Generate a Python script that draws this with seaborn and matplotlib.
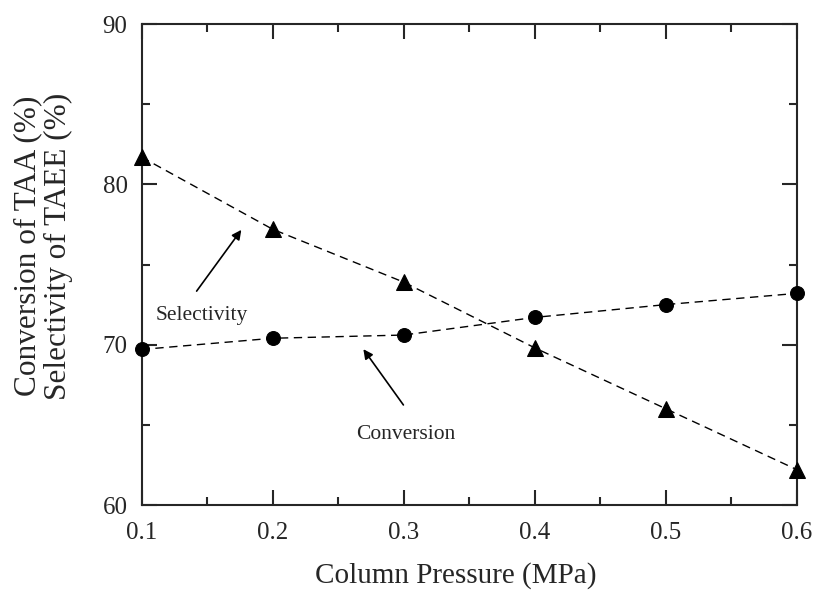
import matplotlib
matplotlib.use("Agg")
import matplotlib.pyplot as plt
from matplotlib.ticker import MultipleLocator
import seaborn as sns
import pandas as pd

pressure = [0.1, 0.2, 0.3, 0.4, 0.5, 0.6]
selectivity = [81.7, 77.2, 73.9, 69.8, 66.0, 62.2]
conversion = [69.7, 70.4, 70.6, 71.7, 72.5, 73.2]
x_ticks = [0.1, 0.2, 0.3, 0.4, 0.5, 0.6]
y_ticks = [60, 70, 80, 90]

sns.set_style("ticks")
plt.rcParams['font.family'] = ['Liberation Serif', 'DejaVu Serif']
plt.rcParams['mathtext.fontset'] = 'stix'

df = pd.DataFrame({"p": pressure, "sel": selectivity, "conv": conversion})

fig = plt.figure(figsize=(8.14, 5.90), dpi=100)
ax = fig.add_axes([141.5 / 814, 1 - 505 / 590, (797 - 141.5) / 814, (505 - 24) / 590])

sns.lineplot(data=df, x="p", y="sel", ax=ax, color="black", marker="^",
             markersize=12, markeredgecolor="black", linewidth=1.0,
             dashes=False, linestyle=(0, (6, 4)), clip_on=False, zorder=3)
sns.lineplot(data=df, x="p", y="conv", ax=ax, color="black", marker="o",
             markersize=10, markeredgecolor="black", linewidth=1.0,
             dashes=False, linestyle=(0, (6, 4)), clip_on=False, zorder=3)

ax.set_xlim(0.1, 0.6)
ax.set_ylim(60, 90)
ax.set_xticks(x_ticks)
ax.set_xticklabels([f"{v:.1f}" for v in x_ticks])
ax.set_yticks(y_ticks)
ax.set_yticklabels([str(v) for v in y_ticks])
ax.xaxis.set_minor_locator(MultipleLocator(0.05))
ax.yaxis.set_minor_locator(MultipleLocator(5))
ax.tick_params(which="both", direction="in", top=True, right=True, width=1.5,
               labelsize=18)
ax.tick_params(axis="x", which="major", pad=12)
ax.tick_params(axis="y", which="major", pad=10)
ax.tick_params(which="major", length=11)
ax.tick_params(which="minor", length=6)
for s in ax.spines.values():
    s.set_linewidth(1.5)

ax.set_xlabel("Column Pressure (MPa)", fontsize=21)
ax.xaxis.label.set_verticalalignment("center")
ax.xaxis.set_label_coords((456 - 141.5) / 655.5, (505 - 576) / 481)

ax.set_ylabel("Conversion of TAA (%)\nSelectivity of TAEE (%)", fontsize=22.5,
              linespacing=1.1)
ax.yaxis.label.set_verticalalignment("center")
ax.yaxis.label.set_horizontalalignment("center")
ax.yaxis.set_label_coords((43 - 141.5) / 655.5, (505 - 246) / 481)

ax.annotate("", xy=(0.1774, 77.3), xytext=(0.1408, 73.2),
            arrowprops=dict(arrowstyle="-|>", color="black", lw=1.2,
                            mutation_scale=14))
ax.text(0.146, 71.85, "Selectivity", fontsize=15.5, ha="center", va="center")
ax.annotate("", xy=(0.268, 69.86), xytext=(0.301, 66.1),
            arrowprops=dict(arrowstyle="-|>", color="black", lw=1.2,
                            mutation_scale=14))
ax.text(0.3018, 64.37, "Conversion", fontsize=15.5, ha="center", va="center")

fig.savefig("out.png", dpi=100)
